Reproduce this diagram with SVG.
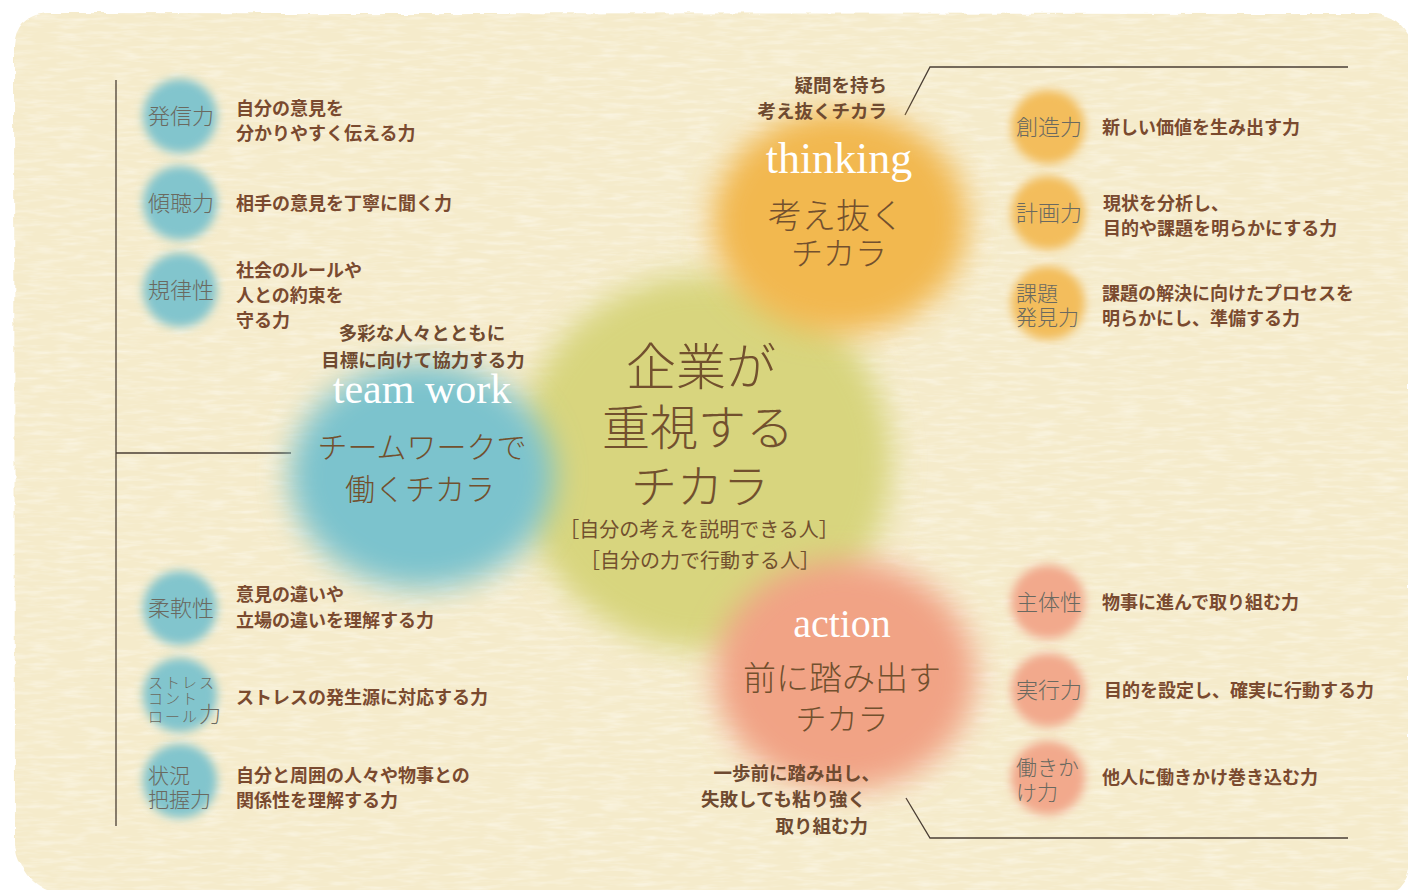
<svg xmlns="http://www.w3.org/2000/svg" width="1408" height="890" viewBox="0 0 1408 890">
<defs>
<filter id="rough" x="-2%" y="-2%" width="104%" height="104%">
<feTurbulence type="fractalNoise" baseFrequency="0.06" numOctaves="2" seed="4" result="t"/>
<feDisplacementMap in="SourceGraphic" in2="t" scale="6" xChannelSelector="R" yChannelSelector="G"/>
</filter>
<filter id="tex" x="0" y="0" width="100%" height="100%">
<feTurbulence type="fractalNoise" baseFrequency="0.035 0.22" numOctaves="3" seed="7" result="n"/>
<feColorMatrix in="n" type="matrix" values="0 0 0 0 1  0 0 0 0 0.99  0 0 0 0 0.95  0 0 0 -0.9 0.52" result="w"/>
<feComposite in="w" in2="SourceAlpha" operator="in"/>
</filter>
<filter id="bigblur" x="-30%" y="-30%" width="160%" height="160%">
<feGaussianBlur stdDeviation="15"/>
</filter>
<filter id="smallblur" x="-40%" y="-40%" width="180%" height="180%">
<feGaussianBlur stdDeviation="5"/>
</filter>
</defs>
<style>
.lbl{font-family:"Noto Sans CJK JP","Noto Sans",sans-serif;font-weight:300;fill:#6a6960;font-size:22px}
.two{font-size:21px}
.sm{font-size:15px;letter-spacing:2px}
.desc{font-family:"Noto Sans CJK JP","Noto Sans",sans-serif;font-weight:700;fill:#7a4a2f;font-size:18px}
.ann{font-family:"Noto Sans CJK JP","Noto Sans",sans-serif;font-weight:700;fill:#6f4a30;font-size:18.5px}
.en{font-family:"Liberation Serif","DejaVu Serif",serif;fill:#ffffff}
.ttl{font-family:"Noto Sans CJK JP","Noto Sans",sans-serif;font-weight:300;fill:#72502e;text-anchor:middle}
.sub{font-family:"Noto Sans CJK JP","Noto Sans",sans-serif;font-weight:400;fill:#72502e;text-anchor:middle}
.ln{stroke:#4a3e34;stroke-width:1.3;fill:none}
.cb{fill:#82c5cd}
.co{fill:#f3bd5c}
.cp{fill:#f2a98c}
</style>
<rect width="1408" height="890" fill="#ffffff"/>
<g id="paper">
<path filter="url(#rough)" d="M46,13 L1376,14 Q1398,16 1409,36 L1409,868 Q1406,884 1394,892 L52,892 Q22,882 15,846 L14,46 Q16,16 46,13 Z" fill="#f5ebcb"/>
<path filter="url(#tex)" d="M46,13 L1376,14 Q1398,16 1409,36 L1409,868 Q1406,884 1394,892 L52,892 Q22,882 15,846 L14,46 Q16,16 46,13 Z" fill="#000"/>
</g>
<g id="connectors">
<path class="ln" d="M116,80 L116,826"/>
<path class="ln" d="M116,453 L291,453"/>
<path class="ln" d="M905,115 L930,67 L1348,67"/>
<path class="ln" d="M906,798 L930,838 L1348,838"/>
</g>
<g id="center">
<circle cx="704" cy="462" r="188" fill="#d8d57e" filter="url(#bigblur)"/>
</g>
<g id="teamwork">
<ellipse cx="422" cy="476" rx="132" ry="112" fill="#7cc3cd" filter="url(#bigblur)"/>
</g>
<g id="thinking">
<ellipse cx="840" cy="222" rx="128" ry="112" fill="#f2b850" filter="url(#bigblur)"/>
</g>
<g id="action">
<ellipse cx="845" cy="675" rx="130" ry="115" fill="#f1a385" filter="url(#bigblur)"/>
</g>
<g id="center-text">
<text class="ttl" x="701" y="385" font-size="50">企業が</text>
<text class="ttl" x="698" y="445" font-size="48">重視する</text>
<text class="ttl" x="700" y="503" font-size="46">チカラ</text>
<text class="sub" x="699" y="537" font-size="20">［自分の考えを説明できる人］</text>
<text class="sub" x="700" y="568" font-size="20">［自分の力で行動する人］</text>
</g>
<g id="thinking-text">
<text class="en" x="839" y="173" font-size="44" text-anchor="middle">thinking</text>
<text class="ttl" x="836" y="228" font-size="34">考え抜く</text>
<text class="ttl" x="839" y="265" font-size="32">チカラ</text>
<text class="ann" x="887" y="92" text-anchor="end">疑問を持ち</text>
<text class="ann" x="887" y="118" text-anchor="end">考え抜くチカラ</text>
</g>
<g id="teamwork-text">
<text class="en" x="422" y="403" font-size="42" text-anchor="middle">team work</text>
<text class="ttl" x="422" y="458" font-size="30">チームワークで</text>
<text class="ttl" x="420" y="500" font-size="30">働くチカラ</text>
<text class="ann" x="422" y="340" text-anchor="middle">多彩な人々とともに</text>
<text class="ann" x="423" y="367" text-anchor="middle">目標に向けて協力する力</text>
</g>
<g id="action-text">
<text class="en" x="842" y="637" font-size="40" text-anchor="middle">action</text>
<text class="ttl" x="842" y="690" font-size="33">前に踏み出す</text>
<text class="ttl" x="842" y="730" font-size="31">チカラ</text>
<text class="ann" x="880" y="780" text-anchor="end">一歩前に踏み出し、</text>
<text class="ann" x="866" y="806" text-anchor="end">失敗しても粘り強く</text>
<text class="ann" x="868" y="833" text-anchor="end">取り組む力</text>
</g>
<g id="n-hasshin">
<circle class="cb" cx="180" cy="116" r="37" filter="url(#smallblur)"/>
<text class="lbl" x="148" y="124">発信力</text>
<text class="desc" x="236" y="115">自分の意見を</text>
<text class="desc" x="236" y="140">分かりやすく伝える力</text>
</g>
<g id="n-keicho">
<circle class="cb" cx="180" cy="203" r="37" filter="url(#smallblur)"/>
<text class="lbl" x="148" y="211">傾聴力</text>
<text class="desc" x="236" y="210">相手の意見を丁寧に聞く力</text>
</g>
<g id="n-kiritsu">
<circle class="cb" cx="180" cy="290" r="37" filter="url(#smallblur)"/>
<text class="lbl" x="148" y="298">規律性</text>
<text class="desc" x="236" y="277">社会のルールや</text>
<text class="desc" x="236" y="302">人との約束を</text>
<text class="desc" x="236" y="327">守る力</text>
</g>
<g id="n-junan">
<circle class="cb" cx="180" cy="608" r="37" filter="url(#smallblur)"/>
<text class="lbl" x="148" y="616">柔軟性</text>
<text class="desc" x="236" y="601">意見の違いや</text>
<text class="desc" x="236" y="627">立場の違いを理解する力</text>
</g>
<g id="n-stress">
<circle class="cb" cx="180" cy="695" r="37" filter="url(#smallblur)"/>
<text class="lbl sm" x="148" y="688">ストレス</text>
<text class="lbl sm" x="148" y="704">コント</text>
<text class="lbl" x="148" y="722"><tspan class="sm">ロール</tspan>力</text>
<text class="desc" x="236" y="704">ストレスの発生源に対応する力</text>
</g>
<g id="n-jokyo">
<circle class="cb" cx="180" cy="781" r="37" filter="url(#smallblur)"/>
<text class="lbl two" x="148" y="783">状況</text>
<text class="lbl two" x="148" y="807">把握力</text>
<text class="desc" x="236" y="782">自分と周囲の人々や物事との</text>
<text class="desc" x="236" y="807">関係性を理解する力</text>
</g>
<g id="n-sozo">
<circle class="co" cx="1048" cy="127" r="37" filter="url(#smallblur)"/>
<text class="lbl" x="1016" y="135">創造力</text>
<text class="desc" x="1102" y="134">新しい価値を生み出す力</text>
</g>
<g id="n-keikaku">
<circle class="co" cx="1048" cy="213" r="37" filter="url(#smallblur)"/>
<text class="lbl" x="1016" y="221">計画力</text>
<text class="desc" x="1103" y="210">現状を分析し、</text>
<text class="desc" x="1103" y="235">目的や課題を明らかにする力</text>
</g>
<g id="n-kadai">
<circle class="co" cx="1048" cy="303" r="37" filter="url(#smallblur)"/>
<text class="lbl two" x="1016" y="301">課題</text>
<text class="lbl two" x="1016" y="325">発見力</text>
<text class="desc" x="1102" y="300">課題の解決に向けたプロセスを</text>
<text class="desc" x="1102" y="325">明らかにし、準備する力</text>
</g>
<g id="n-shutai">
<circle class="cp" cx="1048" cy="602" r="37" filter="url(#smallblur)"/>
<text class="lbl" x="1016" y="610">主体性</text>
<text class="desc" x="1102" y="609">物事に進んで取り組む力</text>
</g>
<g id="n-jikko">
<circle class="cp" cx="1048" cy="690" r="37" filter="url(#smallblur)"/>
<text class="lbl" x="1016" y="698">実行力</text>
<text class="desc" x="1104" y="697">目的を設定し、確実に行動する力</text>
</g>
<g id="n-hatarakikake">
<circle class="cp" cx="1048" cy="778" r="37" filter="url(#smallblur)"/>
<text class="lbl two" x="1016" y="775">働きか</text>
<text class="lbl two" x="1016" y="800">け力</text>
<text class="desc" x="1102" y="784">他人に働きかけ巻き込む力</text>
</g>
</svg>
